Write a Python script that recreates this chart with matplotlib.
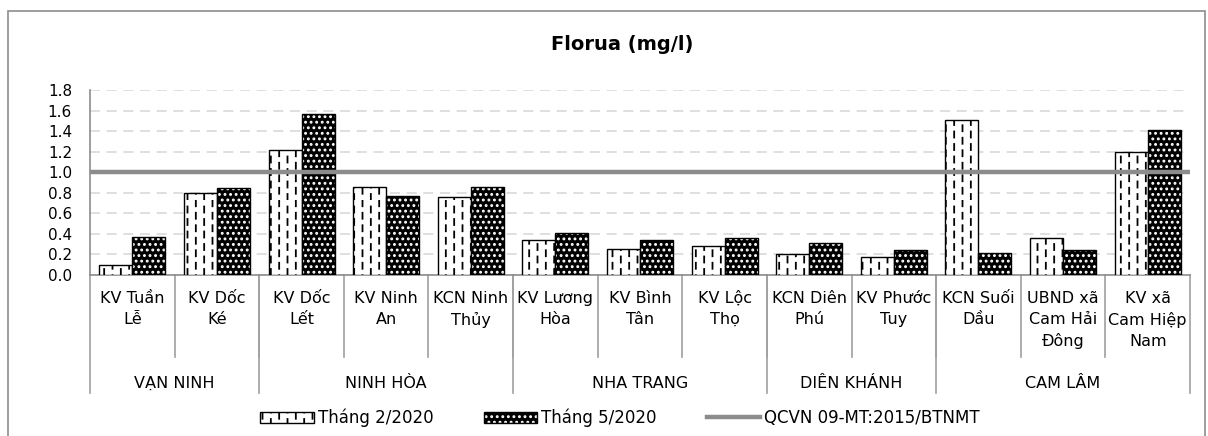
import numpy as np
import matplotlib
matplotlib.use("Agg")
import matplotlib.pyplot as plt
import matplotlib.hatch as mhatch
from matplotlib.path import Path
from matplotlib.patches import Patch, Rectangle
from matplotlib.lines import Line2D
from matplotlib.legend_handler import HandlerTuple

SITES = ["KV Tuần\nLễ", "KV Dốc\nKé", "KV Dốc\nLết", "KV Ninh\nAn", "KCN Ninh\nThủy",
         "KV Lương\nHòa", "KV Bình\nTân", "KV Lộc\nThọ", "KCN Diên\nPhú",
         "KV Phước\nTuy", "KCN Suối\nDầu", "UBND xã\nCam Hải\nĐông",
         "KV xã\nCam Hiệp\nNam"]
GROUPS = ["VẠN NINH", "NINH HÒA", "NHA TRANG", "DIÊN KHÁNH", "CAM LÂM"]
GROUP_SIZES = [2, 3, 3, 2, 3]
FEB_2020 = [0.10, 0.80, 1.22, 0.86, 0.76, 0.34, 0.25, 0.28, 0.20, 0.18, 1.51, 0.36, 1.20]
MAY_2020 = [0.37, 0.85, 1.57, 0.77, 0.86, 0.41, 0.34, 0.36, 0.31, 0.24, 0.21, 0.24, 1.41]
LIMIT = 1.0
SERIES_LABELS = ["Tháng 2/2020", "Tháng 5/2020", "QCVN 09-MT:2015/BTNMT"]


# dashed vertical hatch (Excel style) in place of the solid '|'
class DashedVertical(mhatch.HatchPatternBase):
    def __init__(self, hatch, density):
        self.num_cols = hatch.count('|') * density
        self.num_dashes = 8
        self.num_vertices = self.num_cols * self.num_dashes * 2

    def set_vertices_and_codes(self, vertices, codes):
        k = 0
        for i in range(self.num_cols):
            x = (i + 0.5) / self.num_cols
            shift = 0.5 / self.num_dashes if i % 2 else 0.0
            for j in range(self.num_dashes):
                y0 = j / self.num_dashes + shift
                vertices[k] = (x, y0)
                vertices[k + 1] = (x, y0 + 0.06)
                codes[k] = Path.MOVETO
                codes[k + 1] = Path.LINETO
                k += 2


mhatch._hatch_types = [DashedVertical if t is mhatch.VerticalHatch else t
                       for t in mhatch._hatch_types]

plt.rcParams["font.family"] = "DejaVu Sans"
plt.rcParams["hatch.linewidth"] = 1.3

fig = plt.figure(figsize=(12.08, 4.36), dpi=100)
ax = fig.add_axes([90 / 1208, 1 - 275 / 436, 1100 / 1208, 185 / 436])

x = np.arange(len(SITES))
w = 0.39
ax.bar(x - w / 2, FEB_2020, w, facecolor="white", edgecolor="black",
       linewidth=1.0, hatch="||", zorder=3)
ax.bar(x + w / 2, MAY_2020, w, facecolor="black", edgecolor="white",
       linewidth=0, hatch="...", zorder=3)
ax.bar(x + w / 2, MAY_2020, w, fill=False, edgecolor="black",
       linewidth=1.0, zorder=4)
ax.axhline(LIMIT, color="#8c8c8c", linewidth=3.2, zorder=5)

ax.set_xlim(-0.5, len(SITES) - 0.5)
ax.set_ylim(0, 1.8)
ax.set_yticks(np.arange(0, 1.81, 0.2))
ax.set_yticklabels([f"{v:.1f}" for v in np.arange(0, 1.81, 0.2)], fontsize=11)
ax.tick_params(axis="y", length=0, pad=13)
ax.set_xticks([])
ax.grid(axis="y", color="#d9d9d9", linestyle=(0, (6, 4)), linewidth=1.2, zorder=0)
for s in ["top", "right"]:
    ax.spines[s].set_visible(False)
for s in ["left", "bottom"]:
    ax.spines[s].set_color("#8c8c8c")
    ax.spines[s].set_linewidth(1.2)

# two-level category axis
trans = ax.get_xaxis_transform()
for i, name in enumerate(SITES):
    ax.text(i, -0.085, name, transform=trans, ha="center", va="top",
            fontsize=11.5, linespacing=1.5)
for i in range(1, len(SITES)):
    ax.plot([i - 0.5, i - 0.5], [0, -0.443], transform=trans, color="#a0a0a0",
            linewidth=1.2, clip_on=False)
edges = np.concatenate([[0], np.cumsum(GROUP_SIZES)]) - 0.5
for e in edges:
    ax.plot([e, e], [0, -0.638], transform=trans, color="#a0a0a0",
            linewidth=1.2, clip_on=False)
for g, a, b in zip(GROUPS, edges[:-1], edges[1:]):
    ax.text((a + b) / 2, -0.585, g, transform=trans, ha="center", va="center",
            fontsize=11.5)

fig.text(622 / 1208, 1 - 45 / 436, "Florua (mg/l)", ha="center", va="center",
         fontsize=14, fontweight="bold")

# outer chart frame
fig.patches.append(Rectangle((8 / 1208, -0.1), 1197 / 1208, 1.1 - 11 / 436,
                             transform=fig.transFigure, fill=False,
                             edgecolor="#8c8c8c", linewidth=1.2))

h_feb = Patch(facecolor="white", edgecolor="black", linewidth=1.0, hatch="||")
h_may = (Patch(facecolor="black", edgecolor="white", linewidth=0, hatch="..."),
         Patch(fill=False, edgecolor="black", linewidth=1.0))
h_lim = Line2D([], [], color="#8c8c8c", linewidth=3.2)
fig.legend([h_feb, h_may, h_lim], SERIES_LABELS, loc="center",
           bbox_to_anchor=(620 / 1208, 1 - 418 / 436), ncol=3, frameon=False,
           fontsize=12, handlelength=3.2, handletextpad=0.25, columnspacing=3.0,
           handler_map={tuple: HandlerTuple(ndivide=1, pad=0)})

fig.savefig("out.png", dpi=100)
